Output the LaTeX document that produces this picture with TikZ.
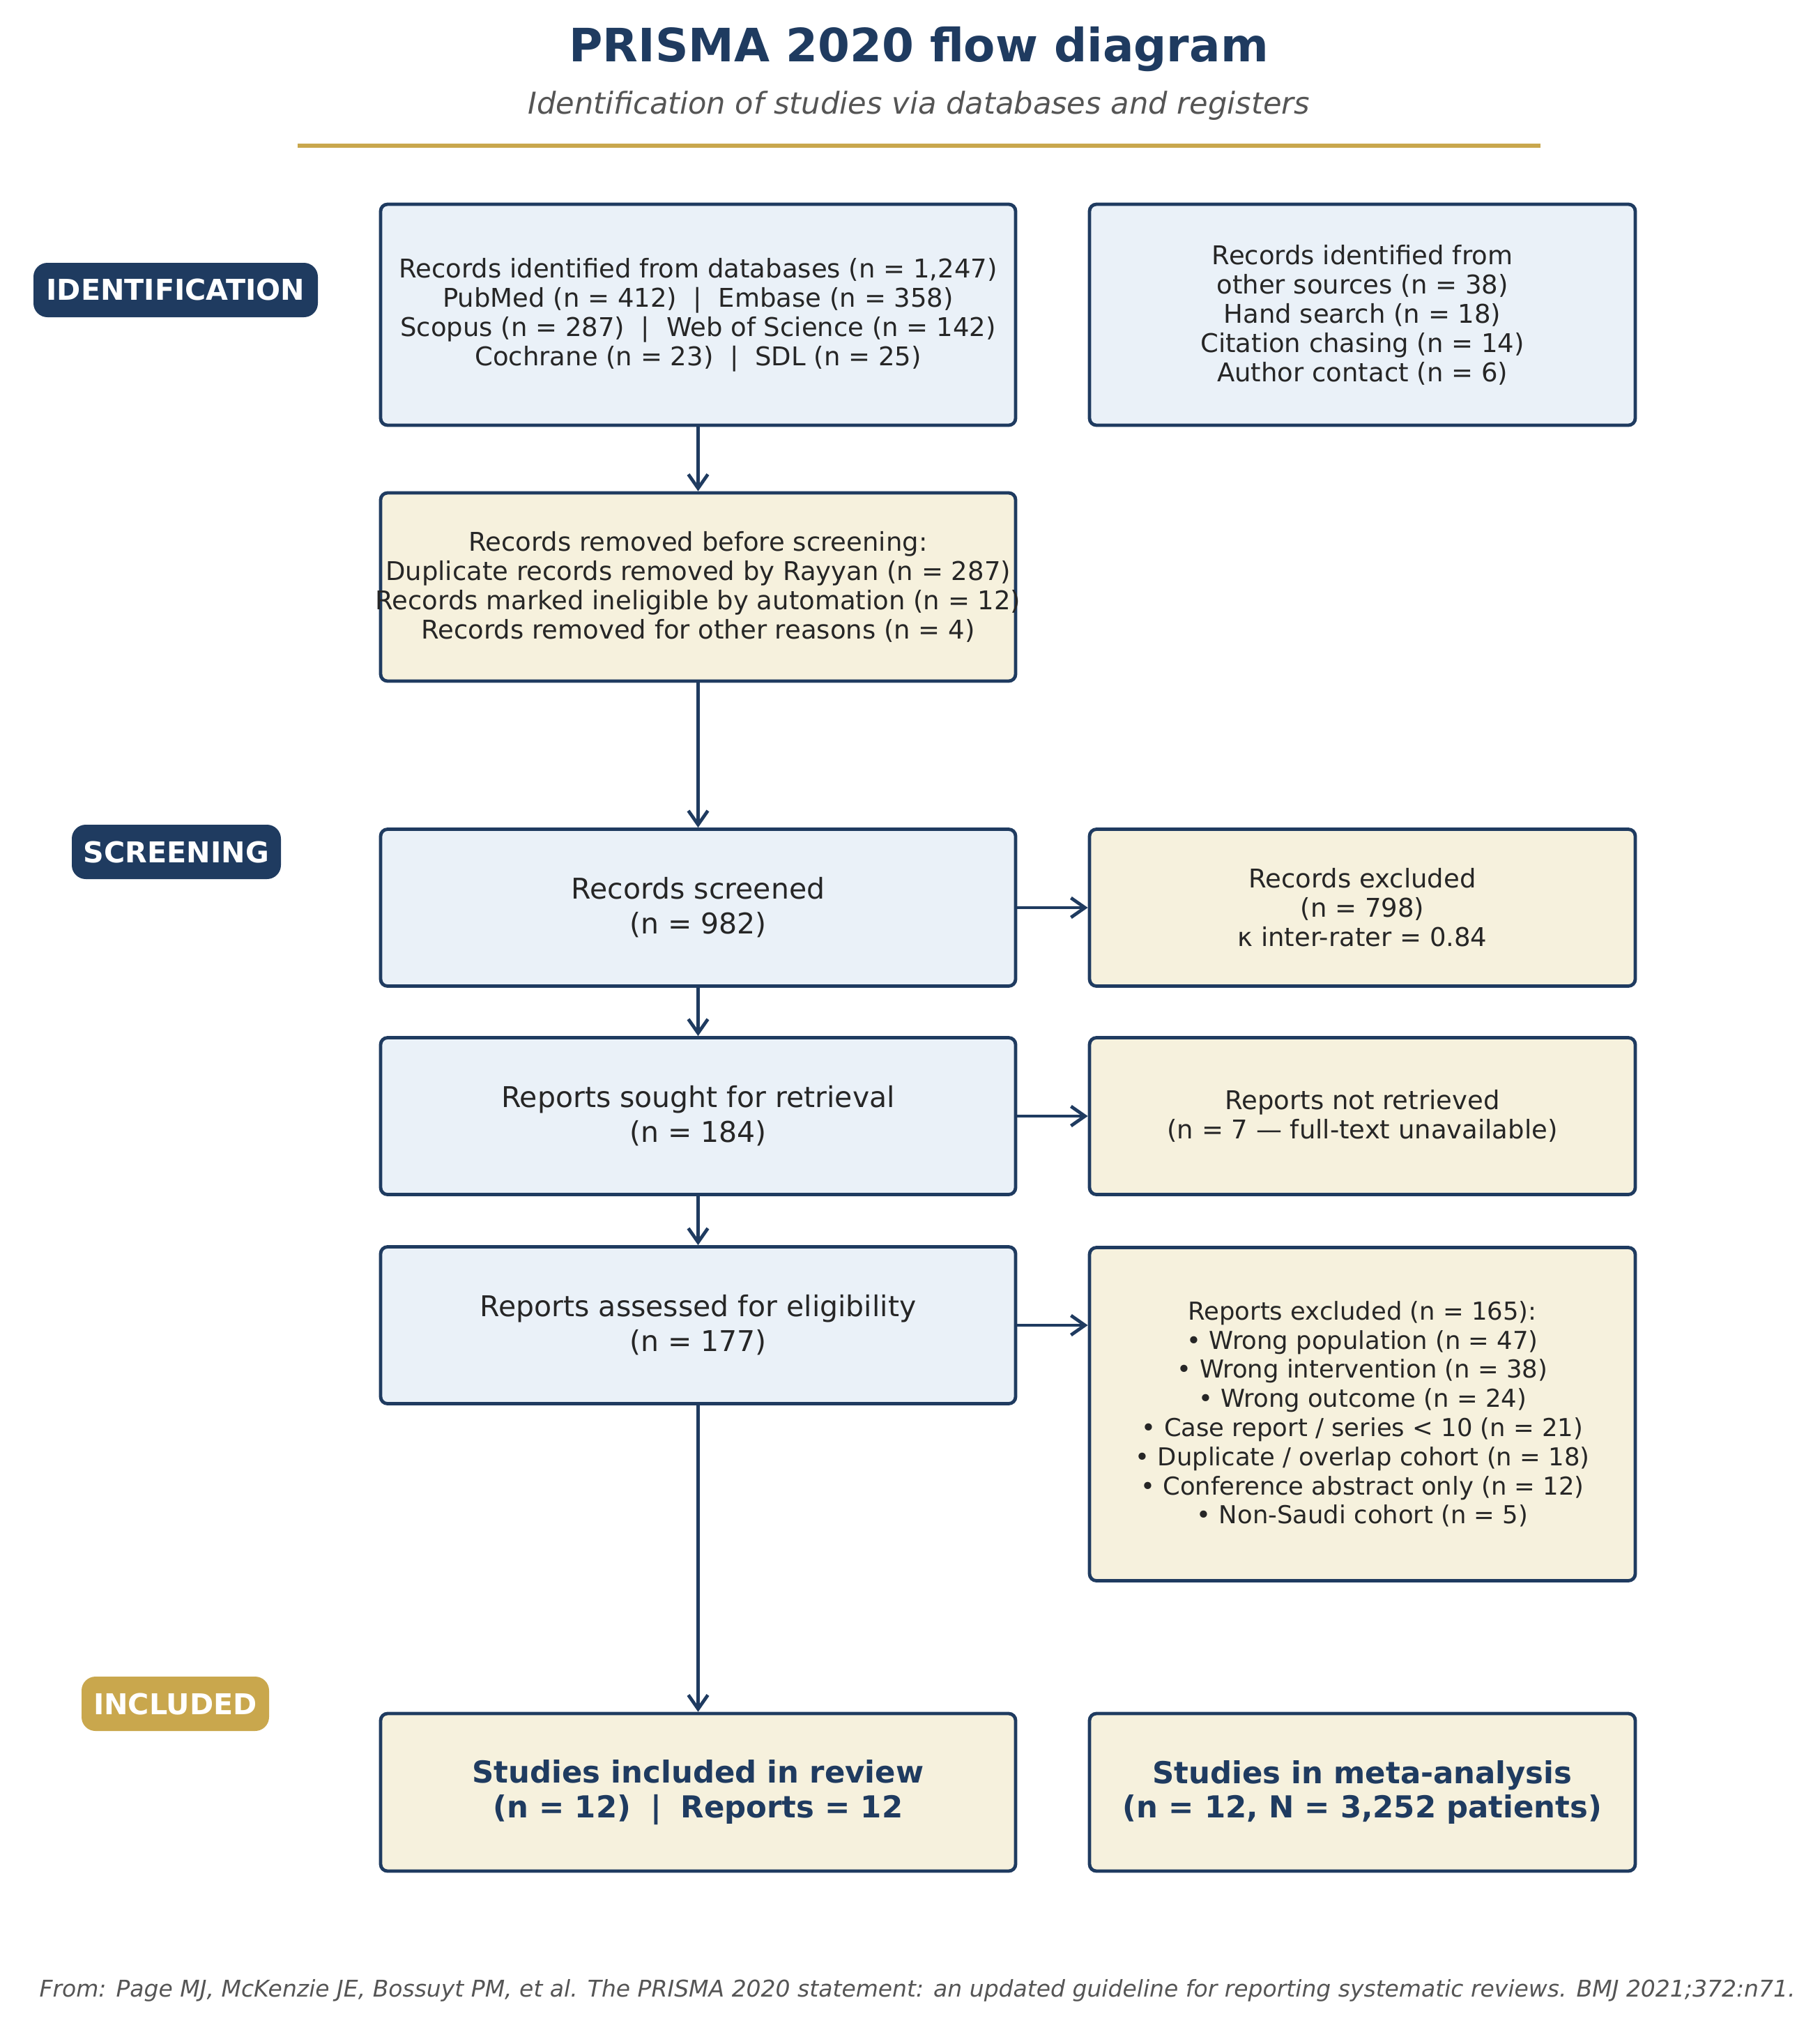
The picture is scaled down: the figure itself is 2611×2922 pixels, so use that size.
\documentclass[tikz,border=0pt]{standalone}
\usepackage{fontspec}
\setmainfont{DejaVu Sans}
\usetikzlibrary{arrows.meta}
\definecolor{navy}{HTML}{1F3B60}
\definecolor{bluefill}{HTML}{EAF1F8}
\definecolor{creamfill}{HTML}{F6F1DD}
\definecolor{gold}{HTML}{C9A74D}
\definecolor{ink}{HTML}{262626}
\definecolor{subgray}{HTML}{555555}
\newcommand\sepbar{\hspace{0.64em}|\hspace{0.64em}}
\begin{document}
\begin{tikzpicture}[x=0.25pt,y=-0.25pt,
  box/.style={draw=navy,line width=1.2pt,rounded corners=2.5pt,align=center,text=ink,
    font=\fontsize{9.25pt}{10.5pt}\selectfont,inner sep=0pt},
  bluebox/.style={box,fill=bluefill},
  creambox/.style={box,fill=creamfill},
  bigtxt/.style={font=\fontsize{10.25pt}{12.5pt}\selectfont},
  listtxt/.style={font=\fontsize{8.85pt}{10.45pt}\selectfont},
  boldtxt/.style={font=\fontsize{10.85pt}{12.3pt}\selectfont\bfseries,text=navy},
  colA/.style={minimum width=227.75pt},
  colB/.style={minimum width=195.75pt},
  phase/.style={rounded corners=5pt,text=white,font=\fontsize{10.3pt}{12pt}\selectfont\bfseries,
    inner sep=0pt,minimum height=19.5pt},
  arr/.style={draw=navy,line width=1.2pt,-{Straight Barb[length=5pt,width=7pt]}}
]
\useasboundingbox (0,0) rectangle (2611,2922);

% title
\node[anchor=base,text=navy,font=\fontsize{16.5pt}{20pt}\selectfont\bfseries] (title) at (1318,89) {PRISMA 2020 flow diagram};
\node[anchor=base,text=subgray,font=\fontsize{10.8pt}{13pt}\selectfont\itshape] (subtitle) at (1318,164) {Identification of studies via databases and registers};
\coordinate (rl) at (427,209);
\coordinate (rr) at (2210,209);
\draw[gold,line width=1.4pt] (rl) -- (rr);

% phase labels
\node[phase,fill=navy,minimum width=102pt] (pid) at (252,416) {IDENTIFICATION};
\node[phase,fill=navy,minimum width=75pt] (psc) at (253,1222) {SCREENING};
\node[phase,fill=gold,minimum width=67.25pt] (pin) at (251.5,2444) {INCLUDED};

% identification
\node[bluebox,colA,minimum height=79.25pt] (A) at (1001.5,451.5) {Records identified from databases (n = 1,247)\\PubMed (n = 412)\sepbar Embase (n = 358)\\Scopus (n = 287)\sepbar Web of Science (n = 142)\\Cochrane (n = 23)\sepbar SDL (n = 25)};
\node[bluebox,colB,minimum height=79.25pt] (B) at (1954.5,451.5) {Records identified from\\other sources (n = 38)\\Hand search (n = 18)\\Citation chasing (n = 14)\\Author contact (n = 6)};
\node[creambox,colA,minimum height=67.5pt] (C) at (1001.5,842) {\makebox[0pt]{Records removed before screening:}\\\makebox[0pt]{Duplicate records removed by Rayyan (n = 287)}\\\makebox[0pt]{Records marked ineligible by automation (n = 12)}\\\makebox[0pt]{Records removed for other reasons (n = 4)}};

% screening
\node[bluebox,bigtxt,colA,minimum height=56.25pt] (D) at (1001.5,1302) {Records screened\\(n = 982)};
\node[creambox,colB,minimum height=56.25pt] (E) at (1954.5,1302) {Records excluded\\(n = 798)\\κ inter-rater = 0.84};
\node[bluebox,bigtxt,colA,minimum height=56.25pt] (F) at (1001.5,1601) {Reports sought for retrieval\\(n = 184)};
\node[creambox,colB,minimum height=56.25pt] (G) at (1954.5,1601) {Reports not retrieved\\(n = 7 — full-text unavailable)};
\node[bluebox,bigtxt,colA,minimum height=56.25pt] (H) at (1001.5,1901) {Reports assessed for eligibility\\(n = 177)};
\node[creambox,listtxt,colB,minimum height=119.5pt] (I) at (1954.5,2028.5) {Reports excluded (n = 165):\\• Wrong population (n = 47)\\• Wrong intervention (n = 38)\\• Wrong outcome (n = 24)\\• Case report / series < 10 (n = 21)\\• Duplicate / overlap cohort (n = 18)\\• Conference abstract only (n = 12)\\• Non-Saudi cohort (n = 5)};

% included
\node[creambox,boldtxt,colA,minimum height=56.5pt] (J) at (1001.5,2571) {Studies included in review\\(n = 12)\sepbar Reports = 12};
\node[creambox,boldtxt,colB,minimum height=56.5pt] (K) at (1954.5,2571) {Studies in meta-analysis\\(n = 12, N = 3,252 patients)};

% footer
\node[anchor=base,text=subgray,font=\fontsize{8.25pt}{9.5pt}\selectfont\itshape] (foot) at (1316,2864) {From: Page MJ, McKenzie JE, Bossuyt PM, et al. The PRISMA 2020 statement: an updated guideline for reporting systematic reviews. BMJ 2021;372:n71.};

% connectors
\draw[arr] (A) -- (C);
\draw[arr] (C) -- (D);
\draw[arr] (D) -- (F);
\draw[arr] (F) -- (H);
\draw[arr] (H) -- (J);
\draw[arr] (D) -- (E);
\draw[arr] (F) -- (G);
\draw[arr] (H.east) -- (H.east -| I.west);
\end{tikzpicture}
\end{document}
